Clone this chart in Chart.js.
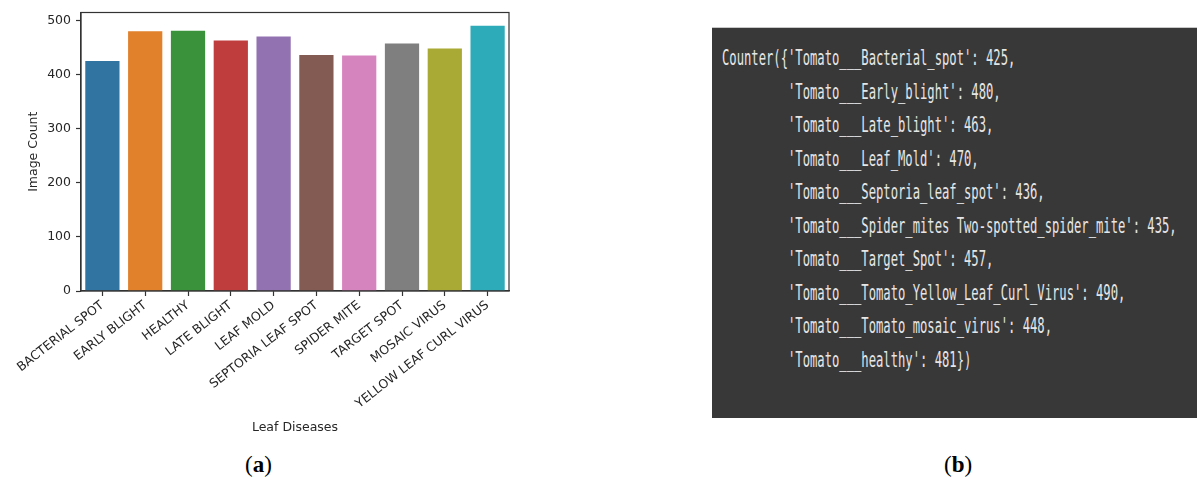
<!DOCTYPE html>
<html>
<head>
<meta charset="utf-8">
<script src="https://cdn.jsdelivr.net/npm/chart.js@4"></script>
<style>
html,body{margin:0;padding:0;background:#fff;width:1197px;height:482px;overflow:hidden;position:relative;}
#wrap{position:absolute;left:0;top:0;width:520px;height:440px;}
#panelB{position:absolute;left:712px;top:27px;width:485px;height:391px;background:#383838;border-top:1px solid #c8c8c8;box-sizing:border-box;}
#code{position:absolute;left:10px;top:14px;margin:0;font-family:'DejaVu Sans Mono',monospace;font-size:21px;line-height:33.5px;color:#e6e6e6;transform:scaleX(0.58);transform-origin:0 0;white-space:pre;}
.cap{position:absolute;top:452px;font-family:'Liberation Serif',serif;font-size:23px;color:#000;}
.cap b{font-weight:bold;}
</style>
</head>
<body>
<div id="wrap"><canvas id="c"></canvas></div>
<div id="panelB"><pre id="code"></pre></div>
<div class="cap" style="left:245px;">(<b>a</b>)</div>
<div class="cap" style="left:944px;">(<b>b</b>)</div>
<script>
const categories = ['BACTERIAL SPOT','EARLY BLIGHT','HEALTHY','LATE BLIGHT','LEAF MOLD','SEPTORIA LEAF SPOT','SPIDER MITE','TARGET SPOT','MOSAIC VIRUS','YELLOW LEAF CURL VIRUS'];
const imageCounts = [425,480,481,463,470,436,435,457,448,490];
const yTickValues = [0,100,200,300,400,500];
const barColors = ['#3274a1','#e1812c','#3a923a','#c03d3e','#9372b2','#845b53','#d684bd','#7f7f7f','#a9aa35','#2eabb8'];

const counterKeys = ['Tomato___Bacterial_spot','Tomato___Early_blight','Tomato___Late_blight','Tomato___Leaf_Mold','Tomato___Septoria_leaf_spot','Tomato___Spider_mites Two-spotted_spider_mite','Tomato___Target_Spot','Tomato___Tomato_Yellow_Leaf_Curl_Virus','Tomato___Tomato_mosaic_virus','Tomato___healthy'];
const counterValues = [425,480,463,470,436,435,457,490,448,481];

// Build panel (b) text
(function(){
  const lines = counterKeys.map((k,i)=>{
    const prefix = i===0 ? 'Counter({' : '         ';
    const suffix = i===counterKeys.length-1 ? '})' : ',';
    return prefix + "'" + k + "': " + counterValues[i] + suffix;
  });
  document.getElementById('code').textContent = lines.join('\n');
})();

const frame = {
  id:'frame',
  afterDraw(chart){
    const {ctx, chartArea:a} = chart;
    ctx.save();
    ctx.strokeStyle='#333';
    ctx.lineWidth=1.2;
    ctx.strokeRect(a.left, a.top, a.right-a.left, a.bottom-a.top);
    ctx.restore();
  }
};

const txt = '#262626';
new Chart(document.getElementById('c'), {
  type:'bar',
  data:{
    labels:categories,
    datasets:[{data:imageCounts, backgroundColor:barColors, borderWidth:0, barPercentage:0.8, categoryPercentage:1.0}]
  },
  options:{
    responsive:true,
    maintainAspectRatio:false,
    animation:false,
    layout:{padding:{left:0, top:12, right:11, bottom:0}},
    plugins:{legend:{display:false}, tooltip:{enabled:false}},
    scales:{
      x:{
        type:'category',
        offset:true,
        grid:{display:true, drawOnChartArea:false, offset:false, tickLength:5, tickColor:'#333', tickWidth:1.2},
        border:{display:true, color:'#333', width:1.2},
        ticks:{autoSkip:false, maxRotation:38, minRotation:38, padding:2, color:txt, font:{family:'DejaVu Sans', size:12.5}},
        title:{display:true, text:'Leaf Diseases', color:txt, font:{family:'DejaVu Sans', size:12.5}, padding:{top:0,bottom:5}},
        afterFit(s){ s.height = 149; s.paddingLeft = 0; s.paddingRight = 0; }
      },
      y:{
        min:0, max:514.5,
        afterBuildTicks(s){ s.ticks = yTickValues.map(v=>({value:v})); },
        grid:{display:true, drawOnChartArea:false, tickLength:5, tickColor:'#333', tickWidth:1.2},
        border:{display:true, color:'#333', width:1.2},
        ticks:{padding:5, color:txt, font:{family:'DejaVu Sans', size:12.5}},
        title:{display:true, text:'Image Count', color:txt, font:{family:'DejaVu Sans', size:12.5}, padding:{top:26,bottom:0}},
        afterFit(s){ s.width = 81; }
      }
    }
  },
  plugins:[frame]
});
</script>
</body>
</html>
